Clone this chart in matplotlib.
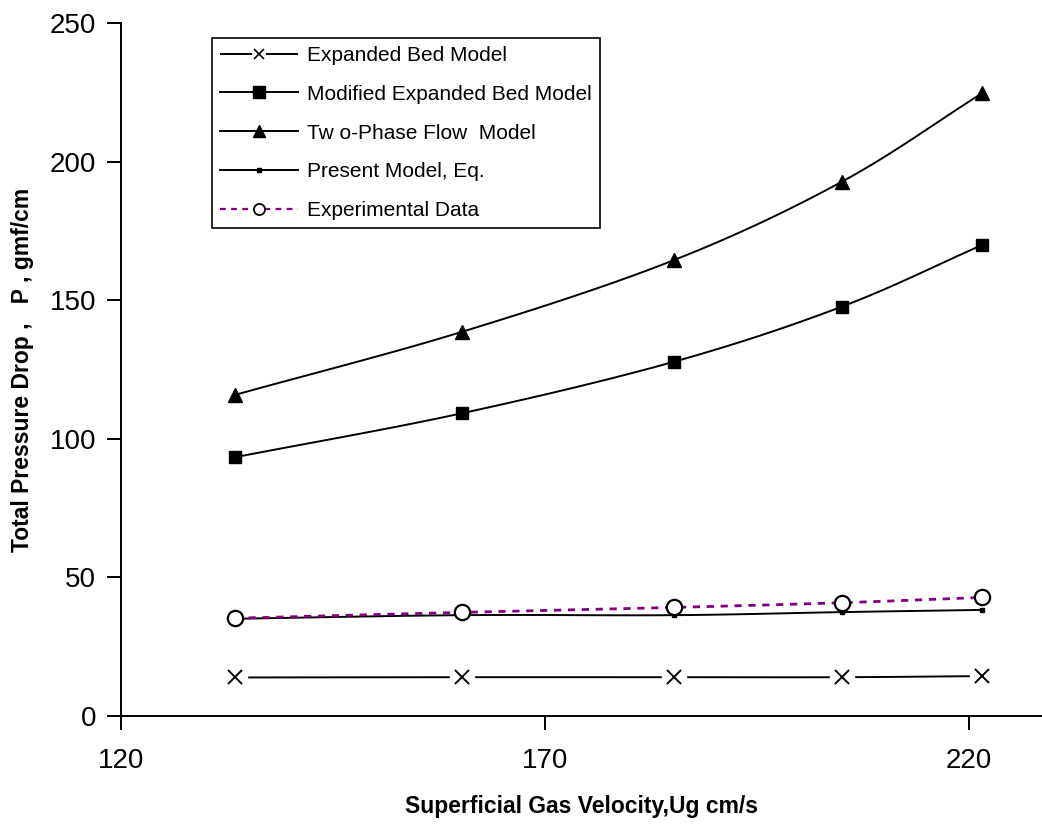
import numpy as np
import matplotlib
matplotlib.use("Agg")
import matplotlib.pyplot as plt
from matplotlib.lines import Line2D
from matplotlib.legend_handler import HandlerTuple

plt.rcParams["font.family"] = ["Liberation Sans", "DejaVu Sans"]

# superficial gas velocity, cm/s
ug = [133.4, 160.2, 185.2, 205.0, 221.5]

expanded_bed = [13.8, 13.9, 13.9, 13.9, 14.3]
modified_bed = [93.3, 109.2, 127.8, 147.7, 169.9]
two_phase = [115.8, 138.6, 164.5, 192.8, 224.7]
present_model = [35.0, 36.3, 36.3, 37.4, 38.2]
experimental = [35.2, 37.3, 39.1, 40.8, 42.7]

labels = ["Expanded Bed Model", "Modified Expanded Bed Model",
          "Tw o-Phase Flow  Model", "Present Model, Eq.", "Experimental Data"]
x_ticks = [120, 170, 220]
y_ticks = [0, 50, 100, 150, 200, 250]

PURPLE = "#800080"
DASHES = (0, (2.6, 2.4))


def smooth(x, y, n=20):
    """Catmull-Rom pass through the points, like a spreadsheet 'smoothed line'."""
    p = np.column_stack([x, y]).astype(float)
    p = np.vstack([2 * p[0] - p[1], p, 2 * p[-1] - p[-2]])
    out = []
    for i in range(1, len(p) - 2):
        p0, p1, p2, p3 = p[i - 1], p[i], p[i + 1], p[i + 2]
        t = np.linspace(0, 1, n, endpoint=False)[:, None]
        seg = 0.5 * ((2 * p1) + (-p0 + p2) * t
                     + (2 * p0 - 5 * p1 + 4 * p2 - p3) * t ** 2
                     + (-p0 + 3 * p1 - 3 * p2 + p3) * t ** 3)
        out.append(seg)
    out.append(p[-2][None, :])
    out = np.vstack(out)
    return out[:, 0], out[:, 1]


fig = plt.figure(figsize=(10.42, 8.25), dpi=100)
ax = fig.add_axes([121 / 1042, 1 - 715.7 / 825, 1 - 121 / 1042, (715.7 - 23.3) / 825])

lw = 1.4
for ys in [expanded_bed, modified_bed, two_phase, present_model]:
    sx, sy = smooth(ug, ys)
    ax.plot(sx, sy, color="black", lw=lw, zorder=2)
sx, sy = smooth(ug, experimental)
ax.plot(sx, sy, color=PURPLE, lw=2.0, ls=DASHES, zorder=3)

# markers (the x markers sit in a small white gap)
ax.plot(ug, expanded_bed, ls="none", marker="s", ms=17, mfc="white", mec="white", zorder=3)
ax.plot(ug, expanded_bed, ls="none", marker="x", ms=10, mew=1.4, color="black", zorder=4)
ax.plot(ug, modified_bed, ls="none", marker="s", ms=8.5, color="black", zorder=4)
ax.plot(ug, two_phase, ls="none", marker="^", ms=10, color="black", zorder=4)
ax.plot(ug, present_model, ls="none", marker="s", ms=2.5, color="black", zorder=4)
ax.plot(ug, experimental, ls="none", marker="o", ms=11, mfc="white", mec="black",
        mew=1.6, zorder=5)

ax.set_xlim(120, 228.6)
ax.set_ylim(0, 250)
ax.set_xticks(x_ticks)
ax.set_yticks(y_ticks)
ax.tick_params(axis="both", direction="out", length=10, width=1.4, labelsize=20)
ax.tick_params(axis="x", pad=13)
ax.tick_params(axis="y", pad=8)
for s in ["top", "right"]:
    ax.spines[s].set_visible(False)
for s in ["left", "bottom"]:
    ax.spines[s].set_linewidth(1.4)

ax.set_xlabel("Superficial Gas Velocity,Ug cm/s", fontsize=16.5, fontweight="bold")
ax.xaxis.set_label_coords(0.5, -(806 - 715.7) / (715.7 - 23.3))
ax.xaxis.label.set_va("center")
ax.set_ylabel("Total Pressure Drop ,   P , gmf/cm", fontsize=16.5, fontweight="bold")
ax.yaxis.set_label_coords(-(121 - 23) / (1042 - 121), 0.5)
ax.yaxis.label.set_va("center")

# legend handles
fs = 15
hl = 3.75
seg_pts = hl * fs
h_exp = Line2D([], [], color="black", lw=lw,
               ls=(0, ((seg_pts / 2 - 5) / lw, 10 / lw)),
               marker="x", ms=7, mew=1.2, mec="black")
h_mod = Line2D([], [], color="black", lw=lw, marker="s", ms=8)
h_two = Line2D([], [], color="black", lw=lw, marker="^", ms=9)
h_pre = Line2D([], [], color="black", lw=lw, marker="s", ms=2.5)
h_dat = (Line2D([], [], color=PURPLE, lw=1.6, ls=DASHES),
         Line2D([], [], ls="none", marker="o", ms=8, mfc="white", mec="black", mew=1.3))

leg = ax.legend([h_exp, h_mod, h_two, h_pre, h_dat], labels,
                handler_map={tuple: HandlerTuple(ndivide=1)},
                loc="upper left", bbox_to_anchor=(212 / 1042, 1 - 38 / 825),
                bbox_transform=fig.transFigure, borderaxespad=0,
                fontsize=fs, handlelength=hl, handletextpad=0.45,
                labelspacing=0.95, borderpad=0.38, fancybox=False,
                framealpha=1, edgecolor="black")
leg.get_frame().set_linewidth(1.2)

fig.savefig("out.png", dpi=100)
